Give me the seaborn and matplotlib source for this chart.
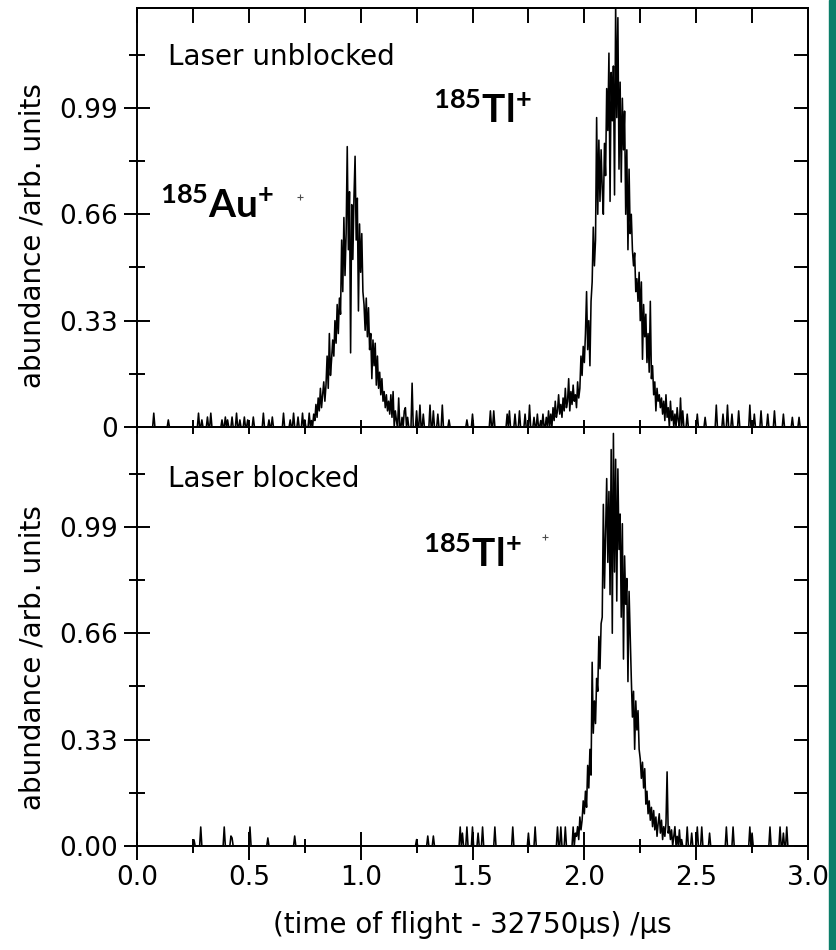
import numpy as np
import pandas as pd
import seaborn as sns
import matplotlib.pyplot as plt
from matplotlib.patches import Rectangle
from matplotlib.ticker import MultipleLocator, FixedLocator, FormatStrFormatter

# time-of-flight spectra, bin width 0.005 us
step = 0.005

# --- laser unblocked (top) ---
au_start = 0.780
au_counts = [0.02, 0.00, 0.04, 0.02, 0.07, 0.03, 0.09, 0.05, 0.12, 0.06,
             0.10, 0.14, 0.08, 0.13, 0.22, 0.12, 0.29, 0.16, 0.21, 0.27,
             0.22, 0.33, 0.26, 0.38, 0.29, 0.40, 0.35, 0.58, 0.42, 0.65,
             0.47, 0.60, 0.87, 0.55, 0.73, 0.23, 0.69, 0.52, 0.71, 0.84,
             0.58, 0.71, 0.36, 0.63, 0.48, 0.60, 0.42, 0.38, 0.30, 0.40,
             0.28, 0.37, 0.24, 0.29, 0.15, 0.27, 0.19, 0.26, 0.13, 0.22,
             0.12, 0.17, 0.10, 0.15, 0.08, 0.11, 0.06, 0.10, 0.05, 0.08,
             0.04, 0.10, 0.03, 0.11, 0.00, 0.05, 0.02, 0.00, 0.09, 0.00,
             0.00, 0.03, 0.00, 0.05, 0.06, 0.00, 0.03, 0.00, 0.00, 0.00]

tl_top_start = 1.850
tl_top_counts = [0.04, 0.00, 0.06, 0.02, 0.08, 0.03, 0.05, 0.10, 0.04, 0.07,
                 0.03, 0.09, 0.05, 0.12, 0.06, 0.08, 0.15, 0.05, 0.11, 0.07,
                 0.13, 0.08, 0.10, 0.06, 0.14, 0.09, 0.12, 0.22, 0.16, 0.25,
                 0.20, 0.29, 0.42, 0.24, 0.33, 0.19, 0.39, 0.45, 0.62, 0.50,
                 0.58, 0.96, 0.66, 0.89, 0.70, 0.86, 0.74, 0.66, 0.88, 0.78,
                 1.05, 0.92, 1.16, 0.70, 1.10, 0.95, 1.12, 0.72, 1.31, 0.96,
                 1.27, 0.80, 1.07, 0.76, 1.02, 0.86, 0.98, 0.66, 0.86, 0.55,
                 0.80, 0.60, 0.66, 0.55, 0.50, 0.54, 0.42, 0.46, 0.39, 0.48,
                 0.33, 0.45, 0.21, 0.38, 0.28, 0.35, 0.20, 0.29, 0.17, 0.39,
                 0.15, 0.19, 0.10, 0.14, 0.05, 0.12, 0.08, 0.10, 0.06, 0.09,
                 0.04, 0.08, 0.02, 0.10, 0.03, 0.06, 0.00, 0.08, 0.02, 0.05,
                 0.00, 0.04, 0.00, 0.06, 0.02, 0.00, 0.09, 0.00, 0.05, 0.00]

top_spike_t = [0.076, 0.139, 0.277, 0.291, 0.313, 0.331, 0.380, 0.393, 0.407, 0.425,
               0.443, 0.460, 0.478, 0.496, 0.519, 0.563, 0.590, 0.603, 0.653, 0.684,
               0.702, 0.720, 0.738, 0.751, 0.769,
               1.230, 1.250, 1.265, 1.279, 1.310, 1.323, 1.346, 1.363, 1.395, 1.475,
               1.498, 1.578, 1.596, 1.654, 1.667, 1.690, 1.712, 1.734, 1.757, 1.775,
               1.790, 1.805, 1.815, 1.830, 1.840,
               2.459, 2.503, 2.540, 2.590, 2.620, 2.640, 2.660, 2.690, 2.740, 2.760,
               2.790, 2.820, 2.850, 2.890, 2.930, 2.960]
top_spike_h = [0.043, 0.022, 0.043, 0.022, 0.031, 0.043, 0.022, 0.031, 0.022, 0.031,
               0.043, 0.022, 0.031, 0.022, 0.031, 0.043, 0.022, 0.031, 0.043, 0.022,
               0.043, 0.031, 0.043, 0.022, 0.043,
               0.136, 0.050, 0.068, 0.040, 0.068, 0.050, 0.040, 0.068, 0.022, 0.022,
               0.040, 0.050, 0.050, 0.040, 0.050, 0.040, 0.050, 0.040, 0.068, 0.030,
               0.040, 0.020, 0.040, 0.030, 0.050,
               0.040, 0.040, 0.030, 0.068, 0.040, 0.068, 0.040, 0.050, 0.068, 0.040,
               0.050, 0.040, 0.050, 0.040, 0.030, 0.030]

# --- laser blocked (bottom) ---
tl_bot_start = 1.965
tl_bot_counts = [0.03, 0.06, 0.02, 0.09, 0.05, 0.08, 0.14, 0.10, 0.17,
                 0.12, 0.25, 0.18, 0.30, 0.22, 0.57, 0.35, 0.45, 0.38, 0.52,
                 0.48, 0.65, 0.55, 0.69, 0.71, 1.06, 0.80, 0.97, 1.14, 0.88,
                 1.10, 0.78, 1.23, 0.66, 1.28, 0.85, 1.20, 0.76, 1.17, 0.92,
                 1.03, 0.71, 1.00, 0.58, 0.90, 0.75, 0.83, 0.51, 0.79, 0.65,
                 0.52, 0.40, 0.48, 0.30, 0.45, 0.36, 0.42, 0.30, 0.27, 0.21,
                 0.26, 0.18, 0.24, 0.13, 0.17, 0.10, 0.14, 0.08, 0.12, 0.06,
                 0.11, 0.05, 0.09, 0.03, 0.07, 0.10, 0.04, 0.08, 0.02, 0.06,
                 0.03, 0.07, 0.23, 0.04, 0.06, 0.02, 0.05, 0.00, 0.03, 0.06,
                 0.00, 0.03, 0.00, 0.05, 0.00, 0.02, 0.00]

bot_spike_t = [0.255, 0.286, 0.389, 0.420, 0.425, 0.505, 0.586, 0.706,
               1.252, 1.301, 1.323, 1.444, 1.457, 1.475, 1.498, 1.524, 1.547, 1.600,
               1.681, 1.748, 1.779, 1.882, 1.895, 1.913, 1.949, 1.960,
               2.459, 2.481, 2.503, 2.526, 2.561, 2.637, 2.664, 2.740, 2.749, 2.830,
               2.874, 2.888, 2.906]
bot_spike_h = [0.019, 0.059, 0.059, 0.031, 0.025, 0.059, 0.025, 0.031,
               0.020, 0.031, 0.031, 0.059, 0.040, 0.059, 0.059, 0.040, 0.059, 0.059,
               0.059, 0.040, 0.059, 0.059, 0.059, 0.059, 0.059, 0.040,
               0.059, 0.040, 0.059, 0.059, 0.040, 0.059, 0.059, 0.059, 0.040, 0.059,
               0.059, 0.040, 0.059]

# stray marks from the original figure
cross_top = (0.729, 0.713)
cross_bot = (1.824, 0.959)

y_major = [0, 0.33, 0.66, 0.99]
y_minor = [0.165, 0.495, 0.825, 1.155]


def build_trace(blocks, spike_t, spike_h):
    t = np.round(np.arange(0, 3.0 + step / 2, step), 3)
    y = np.zeros_like(t)
    for st, sh in zip(spike_t, spike_h):
        i = int(round(st / step))
        y[i] = max(y[i], sh)
    for start, vals in blocks:
        i0 = int(round(start / step))
        y[i0:i0 + len(vals)] = np.maximum(y[i0:i0 + len(vals)], vals)
    return pd.DataFrame({'t': t, 'abundance': y})


top_df = build_trace([(au_start, au_counts), (tl_top_start, tl_top_counts)],
                     top_spike_t, top_spike_h)
bot_df = build_trace([(tl_bot_start, tl_bot_counts)], bot_spike_t, bot_spike_h)

sns.set_theme(style="ticks")
plt.rcParams['font.family'] = ['DejaVu Sans']
plt.rcParams['mathtext.fontset'] = 'dejavusans'
for key in ['text.color', 'axes.labelcolor', 'xtick.color', 'ytick.color',
            'axes.edgecolor']:
    plt.rcParams[key] = 'black'

fig = plt.figure(figsize=(8.36, 9.5), dpi=100)
left, width = 137 / 836, 671 / 836
h = 419 / 950
ax1 = fig.add_axes([left, 1 - 427 / 950, width, h])
ax2 = fig.add_axes([left, 1 - 846 / 950, width, h])

for ax, df in [(ax1, top_df), (ax2, bot_df)]:
    sns.lineplot(data=df, x='t', y='abundance', ax=ax, color='black',
                 linewidth=1.15, estimator=None, sort=False)
    ax.set_xlim(0, 3.0)
    ax.set_ylim(0, 1.3)
    for sp in ax.spines.values():
        sp.set_visible(True)
        sp.set_linewidth(1.4)
        sp.set_color('black')
    ax.xaxis.set_major_locator(MultipleLocator(0.5))
    ax.xaxis.set_minor_locator(MultipleLocator(0.25))
    ax.yaxis.set_major_locator(FixedLocator(y_major))
    ax.yaxis.set_minor_locator(FixedLocator(y_minor))
    ax.tick_params(axis='y', which='major', direction='inout', length=19,
                   width=1.4, labelsize=19, pad=4, left=True, right=False)
    ax.tick_params(axis='y', which='minor', direction='inout', length=11,
                   width=1.4, left=True, right=False)
    ax.set_ylabel('abundance /arb. units', fontsize=20)
    ax.set_xlabel('')
    # right side ticks point inward
    sec_y = ax.secondary_yaxis('right')
    sec_y.yaxis.set_major_locator(FixedLocator(y_major + y_minor))
    sec_y.tick_params(direction='in', length=10, width=1.4, labelright=False)
    sec_y.spines['right'].set_linewidth(1.4)

ax1.set_yticklabels(['0', '0.33', '0.66', '0.99'])
ax2.set_yticklabels(['0.00', '0.33', '0.66', '0.99'])
ax1.yaxis.set_label_coords(-0.135, 0.457)
ax2.yaxis.set_label_coords(-0.135, 0.449)

# x ticks
ax1.tick_params(axis='x', which='both', direction='in', length=5, width=1.4,
                bottom=True, top=False, labelbottom=False)
sec1 = ax1.secondary_xaxis('top')
sec1.xaxis.set_major_locator(MultipleLocator(0.25))
sec1.tick_params(direction='in', length=11, width=1.4, labeltop=False)
sec1.spines['top'].set_linewidth(1.4)

ax2.tick_params(axis='x', which='major', direction='inout', length=20, width=1.4,
                labelsize=19, pad=4, bottom=True, top=False)
ax2.tick_params(axis='x', which='minor', direction='inout', length=10, width=1.4,
                bottom=True, top=False)
sec2 = ax2.secondary_xaxis('top')
sec2.xaxis.set_major_locator(MultipleLocator(0.25))
sec2.tick_params(direction='in', length=5, width=1.4, labeltop=False)
ax2.xaxis.set_major_formatter(FormatStrFormatter('%.1f'))
ax2.set_xlabel('(time of flight - 32750\u03bcs) /\u03bcs', fontsize=20, labelpad=14)

# panel texts
ax1.text(0.139, 1.122, 'Laser unblocked', fontsize=20)
ax2.text(0.139, 1.114, 'Laser blocked', fontsize=20)
ion_font = dict(family='Lato', weight='bold', size=28)
ax1.text(0.103, 0.648, r'$\mathregular{^{185}Au^{+}}$', fontdict=ion_font, va='baseline')
ax1.text(1.323, 0.942, r'$\mathregular{^{185}Tl^{+}}$', fontdict=ion_font, va='baseline')
ax2.text(1.279, 0.866, r'$\mathregular{^{185}Tl^{+}}$', fontdict=ion_font, va='baseline')

ax1.plot(*cross_top, marker='+', color='0.3', markersize=5, markeredgewidth=0.8)
ax2.plot(*cross_bot, marker='+', color='0.3', markersize=5, markeredgewidth=0.8)

# green strip at right edge
fig.add_artist(Rectangle((829 / 836, 0), 7 / 836, 1, transform=fig.transFigure,
                         color='#0b7e6a', zorder=10))

fig.savefig('out.png', dpi=100)
